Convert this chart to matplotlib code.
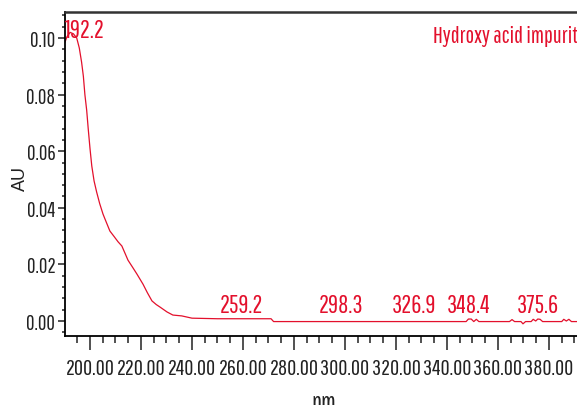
import matplotlib
matplotlib.use("Agg")
import matplotlib.pyplot as plt
from matplotlib.ticker import MultipleLocator, FormatStrFormatter

# spectrum (wavelength nm, absorbance AU)
wavelength = [190.2, 191.0, 192.2, 193.5, 194.8, 195.8, 196.7, 197.4, 198.0,
              198.7, 199.3, 200.0, 200.7, 201.6, 202.6, 203.8, 205.1, 205.9,
              207.8, 209.5, 211.0, 212.5, 213.8, 214.9, 216.7, 218.4, 220.8,
              222.5, 224.3, 226.0, 227.5, 230.2, 232.5, 236.0, 240.0, 250.0,
              260.0, 271.0, 272.0, 300.0, 330.0, 347.5, 348.4, 349.5, 350.5,
              351.5, 352.5, 364.5, 365.5, 366.5, 369.0, 369.8, 370.8, 373.0,
              373.8, 374.8, 375.6, 376.5, 377.5, 385.0, 385.8, 386.8, 387.8,
              388.8, 392.0]
absorbance = [0.0986, 0.1005, 0.1020, 0.1015, 0.1000, 0.0965, 0.0915, 0.0865, 0.0800,
              0.0745, 0.0680, 0.0610, 0.0548, 0.0495, 0.0456, 0.0415, 0.0378, 0.0360,
              0.0318, 0.0298, 0.0280, 0.0265, 0.0238, 0.0215, 0.0190, 0.0166, 0.0130,
              0.0100, 0.0071, 0.0058, 0.0049, 0.0032, 0.0021, 0.0018, 0.0010, 0.0008,
              0.0008, 0.0008, -0.0002, -0.0002, -0.0002, -0.0002, 0.0007, 0.0007, -0.0002,
              0.0006, -0.0002, -0.0002, 0.0005, -0.0002, -0.0002, -0.0010, -0.0002, -0.0002,
              0.0006, 0.0000, 0.0007, 0.0006, -0.0002, -0.0002, 0.0006, 0.0000, 0.0006,
              -0.0002, -0.0002]

peak_labels = [192.2, 259.2, 298.3, 326.9, 348.4, 375.6]

RED = "#e3102c"
NARROW = ["Pathway Gothic One", "DejaVu Sans"]

plt.rcParams["font.family"] = NARROW

fig = plt.figure(figsize=(5.77, 4.06), dpi=100)
ax = fig.add_axes([65 / 577, 69 / 406, 514.6 / 577, 324 / 406])

ax.plot(wavelength, absorbance, color=RED, lw=0.9)
ax.set_xlim(190.2, 392)
ax.set_ylim(-0.0053, 0.1092)

ax.xaxis.set_major_locator(MultipleLocator(20))
ax.xaxis.set_minor_locator(MultipleLocator(5))
ax.yaxis.set_major_locator(MultipleLocator(0.02))
ax.yaxis.set_minor_locator(MultipleLocator(0.004))
ax.xaxis.set_major_formatter(FormatStrFormatter("%.2f"))
ax.yaxis.set_major_formatter(FormatStrFormatter("%.2f"))

ax.tick_params(axis="x", which="major", length=10, width=1.1, pad=6,
               labelsize=16, colors="#222222")
ax.tick_params(axis="x", which="minor", length=5, width=1.1, colors="#222222")
ax.tick_params(axis="y", which="major", length=5, width=1.1, pad=2,
               labelsize=15, colors="#222222")
ax.tick_params(axis="y", which="minor", length=2.5, width=1.1, colors="#222222")

ax.spines["right"].set_visible(False)
ax.spines["left"].set_linewidth(1.3)
ax.spines["bottom"].set_linewidth(1.3)
ax.spines["top"].set_linewidth(1.8)
ax.spines["top"].set_color("#333333")

for i, w in enumerate(peak_labels):
    if i == 0:
        ax.text(190.3, 0.0986, f"{w}", color=RED, fontsize=18,
                ha="left", va="bottom")
    else:
        ax.text(w, 0.0015, f"{w}", color=RED, fontsize=18,
                ha="center", va="bottom")

fig.text(433 / 577, 0.909, "Hydroxy acid impurity", color=RED, fontsize=16.4,
         ha="left", va="center")
fig.text(20 / 577, 0.56, "AU", rotation=90, fontsize=13, color="#222222",
         family=["Liberation Sans", "DejaVu Sans"], ha="center", va="center")
fig.text(324 / 577, 0.036, "nm", fontsize=18, color="#222222",
         ha="center", va="top")

fig.savefig("out.png", dpi=100)
